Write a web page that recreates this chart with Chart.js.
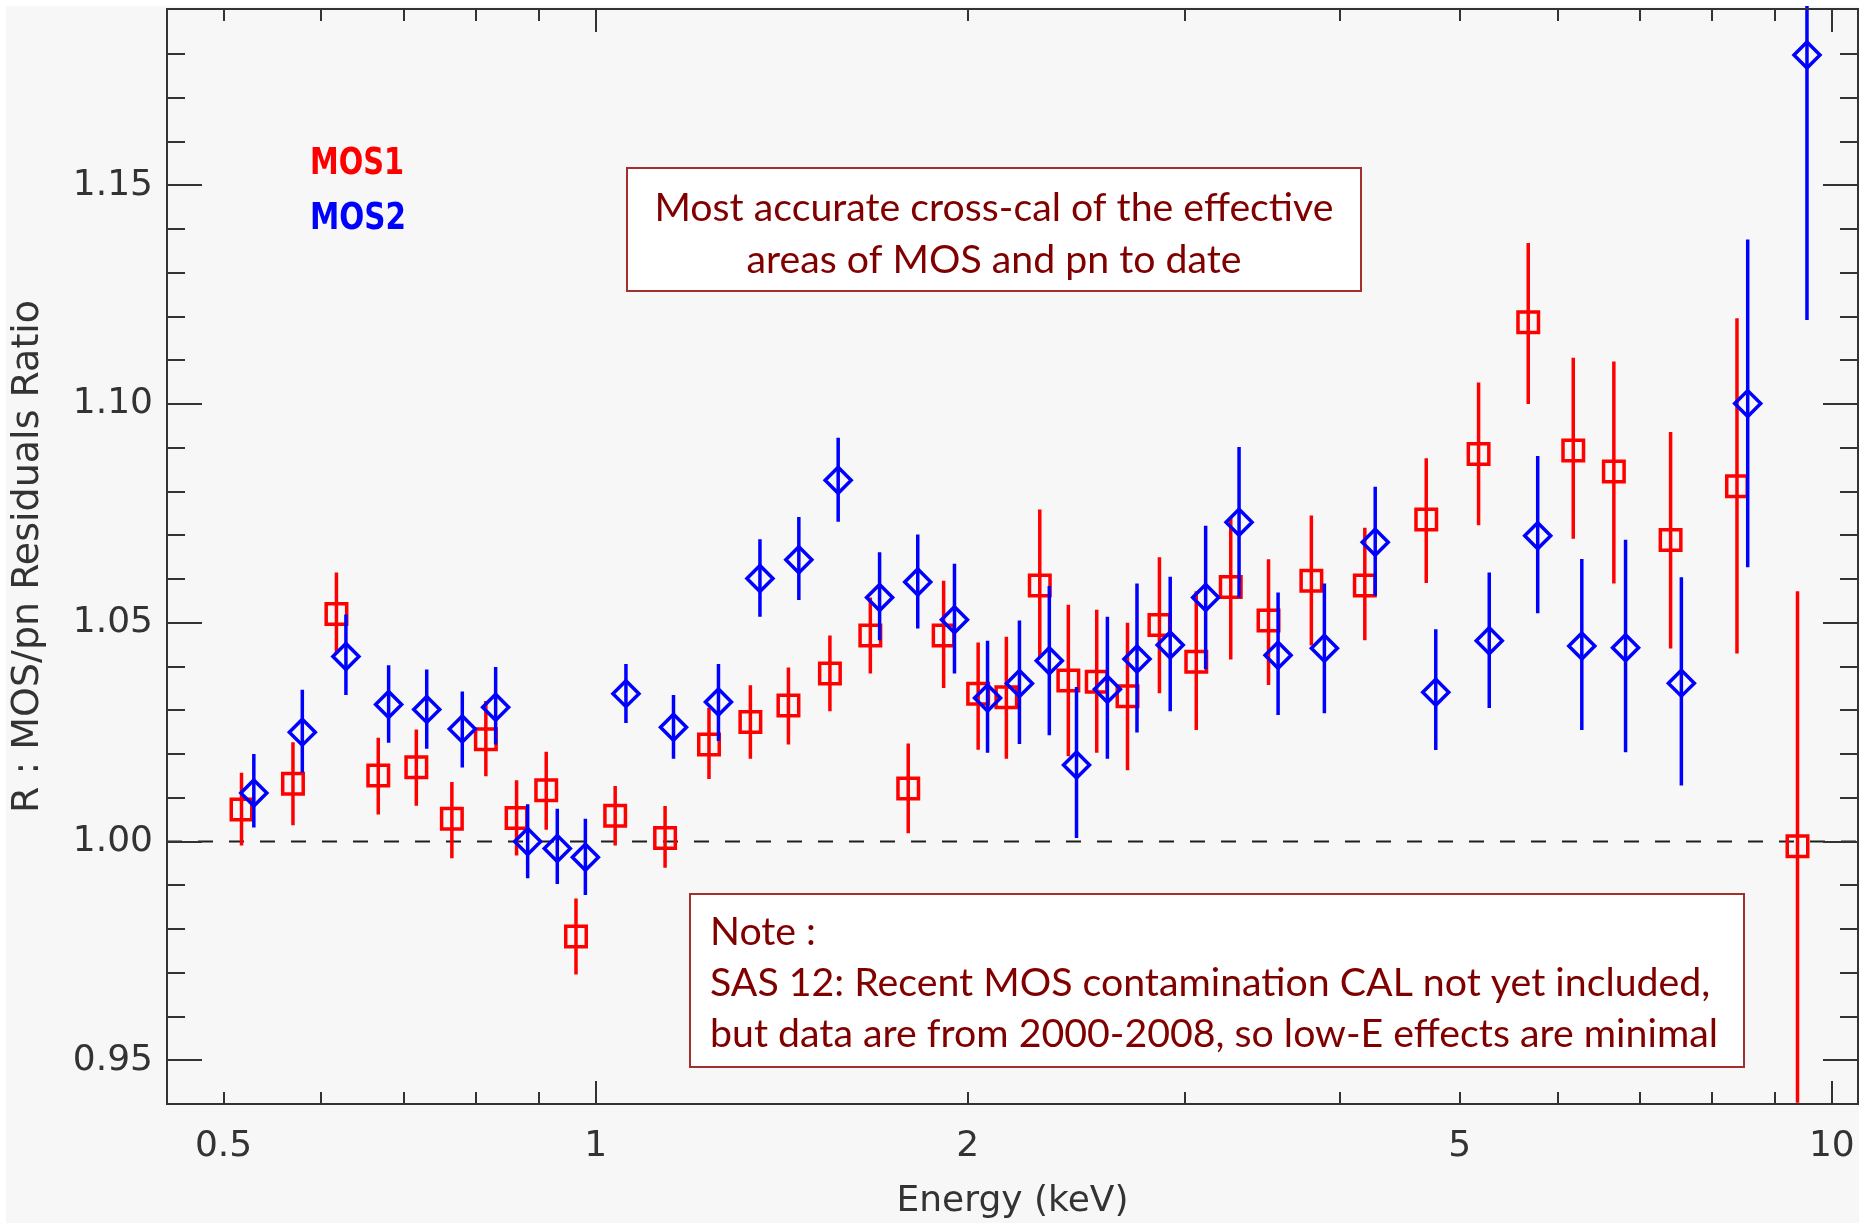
<!DOCTYPE html>
<html>
<head>
<meta charset="utf-8">
<title>MOS/pn Residuals Ratio</title>
<script src="https://cdn.jsdelivr.net/npm/chart.js"></script>
<style>
  html, body { margin: 0; padding: 0; background: #ffffff; }
  #wrap { position: relative; width: 1859px; height: 1223px; }
</style>
</head>
<body>
<div id="wrap"><canvas id="myChart" width="1859" height="1223"></canvas></div>
<script>
// MOS1 (red squares): energy (keV), ratio, upper and lower end of error bar
var mos1Energy = [0.517, 0.569, 0.617, 0.667, 0.716, 0.765, 0.815, 0.863, 0.912, 0.964, 1.037, 1.138, 1.235, 1.334, 1.432, 1.547, 1.668, 1.790, 1.912, 2.039, 2.149, 2.287, 2.412, 2.543, 2.693, 2.858, 3.061, 3.264, 3.502, 3.793, 4.190, 4.698, 5.179, 5.681, 6.178, 6.663, 7.406, 8.381, 9.381];
var mos1Ratio = [1.0073, 1.0132, 1.0520, 1.0151, 1.0170, 1.0052, 1.0234, 1.0054, 1.0117, 0.9783, 1.0059, 1.0008, 1.0222, 1.0273, 1.0311, 1.0384, 1.0471, 1.0121, 1.0471, 1.0338, 1.0330, 1.0585, 1.0368, 1.0365, 1.0332, 1.0495, 1.0411, 1.0582, 1.0505, 1.0596, 1.0585, 1.0736, 1.0886, 1.1187, 1.0894, 1.0846, 1.0689, 1.0812, 0.9989];
var mos1Hi = [1.0157, 1.0227, 1.0615, 1.0237, 1.0256, 1.0136, 1.0321, 1.0140, 1.0205, 0.9870, 1.0127, 1.0081, 1.0306, 1.0357, 1.0398, 1.0471, 1.0558, 1.0224, 1.0596, 1.0455, 1.0468, 1.0759, 1.0541, 1.0530, 1.0500, 1.0650, 1.0572, 1.0740, 1.0645, 1.0745, 1.0717, 1.0876, 1.1049, 1.1368, 1.1106, 1.1097, 1.0936, 1.1196, 1.0572];
var mos1Lo = [0.9991, 1.0037, 1.0429, 1.0062, 1.0082, 0.9962, 1.0149, 0.9968, 1.0027, 0.9696, 0.9991, 0.9940, 1.0143, 1.0189, 1.0222, 1.0298, 1.0384, 1.0019, 1.0351, 1.0210, 1.0189, 1.0420, 1.0195, 1.0203, 1.0163, 1.0339, 1.0255, 1.0416, 1.0358, 1.0448, 1.0460, 1.0591, 1.0723, 1.1000, 1.0692, 1.0590, 1.0441, 1.0430, 0.9403];

// MOS2 (blue diamonds)
var mos2Energy = [0.529, 0.579, 0.628, 0.680, 0.730, 0.780, 0.830, 0.881, 0.931, 0.981, 1.058, 1.156, 1.257, 1.358, 1.460, 1.571, 1.697, 1.822, 1.951, 2.075, 2.202, 2.328, 2.449, 2.594, 2.741, 2.916, 3.115, 3.315, 3.565, 3.886, 4.272, 4.782, 5.283, 5.782, 6.277, 6.810, 7.556, 8.550, 9.548];
var mos2Ratio = [1.0111, 1.0250, 1.0423, 1.0313, 1.0302, 1.0257, 1.0307, 1.0000, 0.9984, 0.9964, 1.0338, 1.0261, 1.0319, 1.0601, 1.0644, 1.0826, 1.0558, 1.0593, 1.0507, 1.0328, 1.0361, 1.0413, 1.0175, 1.0348, 1.0417, 1.0449, 1.0558, 1.0730, 1.0426, 1.0442, 1.0684, 1.0341, 1.0459, 1.0699, 1.0447, 1.0443, 1.0362, 1.1001, 1.1798];
var mos2Hi = [1.0200, 1.0347, 1.0519, 1.0403, 1.0393, 1.0343, 1.0399, 1.0085, 1.0075, 1.0052, 1.0406, 1.0335, 1.0406, 1.0691, 1.0742, 1.0923, 1.0661, 1.0702, 1.0635, 1.0459, 1.0505, 1.0584, 1.0353, 1.0514, 1.0590, 1.0605, 1.0722, 1.0902, 1.0569, 1.0590, 1.0811, 1.0485, 1.0615, 1.0881, 1.0646, 1.0690, 1.0604, 1.1376, 1.1950];
var mos2Lo = [1.0032, 1.0158, 1.0335, 1.0226, 1.0212, 1.0169, 1.0222, 0.9916, 0.9903, 0.9878, 1.0271, 1.0189, 1.0230, 1.0514, 1.0552, 1.0731, 1.0460, 1.0487, 1.0384, 1.0203, 1.0223, 1.0243, 1.0008, 1.0189, 1.0249, 1.0298, 1.0394, 1.0558, 1.0289, 1.0293, 1.0562, 1.0209, 1.0305, 1.0522, 1.0255, 1.0204, 1.0128, 1.0627, 1.1192];

// axes
var xMin = 0.45, xMax = 10.5;
var yMin = 0.94, yMax = 1.1903;
var xLabelValues = [0.5, 1, 2, 5, 10];
var xTickLabels = ["0.5", "1", "2", "5", "10"];
var xAllTicks = [0.5, 0.6, 0.7, 0.8, 0.9, 1, 2, 3, 4, 5, 6, 7, 8, 9, 10];
var xLongTicks = [1, 10];
var yLabelValues = [0.95, 1.00, 1.05, 1.10, 1.15];
var yTickLabels = ["0.95", "1.00", "1.05", "1.10", "1.15"];
var refLevel = 1.0;

var yAllTicks = [];
for (var t = 95; t <= 118; t++) {
    yAllTicks.push(t / 100);
}

function toPoints(xs, ys) {
    var pts = [];
    for (var i = 0; i < xs.length; i++) {
        pts.push({ x: xs[i], y: ys[i] });
    }
    return pts;
}

var inkColor = "#333333";
var noteRed = "#800000";

// light grey page with a thin white margin at top and left
var backdrop = {
    id: "backdrop",
    beforeDraw: function (chart) {
        var ctx = chart.ctx;
        ctx.save();
        ctx.fillStyle = "#ffffff";
        ctx.fillRect(0, 0, chart.width, chart.height);
        ctx.fillStyle = "#f7f7f7";
        ctx.fillRect(6, 6, chart.width - 6, chart.height - 6);
        ctx.restore();
    }
};

// vertical error bars, drawn just before each dataset's own markers
var errorBars = {
    id: "errorBars",
    beforeDatasetDraw: function (chart, args) {
        var ds = chart.data.datasets[args.index];
        if (!ds.hi) return;
        var ctx = chart.ctx;
        var xs = chart.scales.x, ys = chart.scales.y, a = chart.chartArea;
        ctx.save();
        ctx.beginPath();
        ctx.rect(a.left, a.top - 3, a.right - a.left, a.bottom - a.top + 3);
        ctx.clip();
        ctx.strokeStyle = ds.borderColor;
        ctx.lineWidth = 3.5;
        ctx.beginPath();
        for (var i = 0; i < ds.data.length; i++) {
            var px = xs.getPixelForValue(ds.data[i].x);
            ctx.moveTo(px, ys.getPixelForValue(ds.hi[i]));
            ctx.lineTo(px, ys.getPixelForValue(ds.lo[i]));
        }
        ctx.stroke();
        ctx.restore();
    }
};

// box round the plot with ticks pointing inwards on all four sides
var frameTicks = {
    id: "frameTicks",
    afterDatasetsDraw: function (chart) {
        var ctx = chart.ctx, a = chart.chartArea;
        var xs = chart.scales.x, ys = chart.scales.y;
        ctx.save();
        ctx.strokeStyle = inkColor;
        ctx.lineWidth = 2;
        ctx.strokeRect(a.left, a.top, a.right - a.left, a.bottom - a.top);
        ctx.beginPath();
        xAllTicks.forEach(function (v) {
            var px = Math.round(xs.getPixelForValue(v));
            var len = xLongTicks.indexOf(v) >= 0 ? 23 : 12;
            ctx.moveTo(px, a.bottom);
            ctx.lineTo(px, a.bottom - len);
            ctx.moveTo(px, a.top);
            ctx.lineTo(px, a.top + len);
        });
        yAllTicks.forEach(function (v) {
            var py = Math.round(ys.getPixelForValue(v));
            var major = false;
            for (var j = 0; j < yLabelValues.length; j++) {
                if (Math.abs(yLabelValues[j] - v) < 1e-6) major = true;
            }
            var len = major ? 35 : 18;
            ctx.moveTo(a.left, py);
            ctx.lineTo(a.left + len, py);
            ctx.moveTo(a.right, py);
            ctx.lineTo(a.right - len, py);
        });
        ctx.stroke();
        ctx.restore();
    }
};

// squeeze a line of text sideways so it takes the given width
function drawSqueezed(ctx, text, x, y, k, align) {
    ctx.save();
    ctx.translate(x, y);
    ctx.scale(k, 1);
    ctx.textAlign = align;
    ctx.fillText(text, 0, 0);
    ctx.restore();
}

var noteBoxes = [
    { left: 627, top: 168, right: 1361, bottom: 291, align: "center", textX: 994,
      baselines: [221, 273], fitWidth: 679,
      lines: ["Most accurate cross-cal of the effective", "areas of MOS and pn to date"] },
    { left: 690, top: 894, right: 1744, bottom: 1067, align: "left", textX: 710,
      baselines: [945, 996, 1047], fitWidth: 1008, fitLine: 2,
      lines: ["Note :", "SAS 12: Recent MOS contamination CAL not yet included,", "but data are from 2000-2008, so low-E effects are minimal"] }
];

var legendItems = [
    { text: "MOS1", color: "#ff0000", x: 310, y: 174, width: 94 },
    { text: "MOS2", color: "#0000ff", x: 310, y: 229, width: 96 }
];

var notes = {
    id: "notes",
    afterDraw: function (chart) {
        var ctx = chart.ctx;
        ctx.save();
        noteBoxes.forEach(function (b) {
            ctx.fillStyle = "#ffffff";
            ctx.fillRect(b.left, b.top, b.right - b.left, b.bottom - b.top);
            ctx.strokeStyle = "#a3302c";
            ctx.lineWidth = 2;
            ctx.strokeRect(b.left, b.top, b.right - b.left, b.bottom - b.top);
            ctx.font = "38px Lato, 'Open Sans', sans-serif";
            ctx.fillStyle = noteRed;
            ctx.textBaseline = "alphabetic";
            var k = b.fitWidth / ctx.measureText(b.lines[b.fitLine || 0]).width;
            for (var i = 0; i < b.lines.length; i++) {
                drawSqueezed(ctx, b.lines[i], b.textX, b.baselines[i], k, b.align);
            }
        });
        legendItems.forEach(function (it) {
            ctx.font = "bold 37px 'DejaVu Sans'";
            ctx.fillStyle = it.color;
            ctx.textBaseline = "alphabetic";
            var k = it.width / ctx.measureText(it.text).width;
            drawSqueezed(ctx, it.text, it.x, it.y, k, "left");
        });
        ctx.restore();
    }
};

// keep the scales from reserving room for half a tick label at their ends
function noEndPadding(scale) {
    scale.paddingTop = 0;
    scale.paddingBottom = 0;
    scale.paddingLeft = 0;
    scale.paddingRight = 0;
}

Chart.defaults.font.family = "'DejaVu Sans', sans-serif";
Chart.defaults.color = inkColor;

var ctx = document.getElementById("myChart").getContext("2d");
var chart = new Chart(ctx, {
    type: "scatter",
    data: {
        datasets: [{
            label: "MOS2",
            data: toPoints(mos2Energy, mos2Ratio),
            hi: mos2Hi,
            lo: mos2Lo,
            order: 0,
            pointStyle: "rectRot",
            pointRadius: 13,
            pointBorderWidth: 3.5,
            borderColor: "#0000ff",
            backgroundColor: "rgba(0,0,0,0)"
        }, {
            label: "MOS1",
            data: toPoints(mos1Energy, mos1Ratio),
            hi: mos1Hi,
            lo: mos1Lo,
            order: 1,
            pointStyle: "rect",
            pointRadius: 14.5,
            pointBorderWidth: 3.5,
            borderColor: "#ff0000",
            backgroundColor: "rgba(0,0,0,0)"
        }, {
            label: "unity",
            data: [{ x: xMin, y: refLevel }, { x: xMax, y: refLevel }],
            order: 2,
            showLine: true,
            pointRadius: 0,
            borderColor: "#1e1e1e",
            borderWidth: 2,
            borderDash: [15, 16]
        }]
    },
    options: {
        responsive: false,
        animation: false,
        events: [],
        layout: {
            autoPadding: false,
            padding: { left: 0, right: 1, top: 9, bottom: 0 }
        },
        plugins: {
            legend: { display: false },
            tooltip: { enabled: false }
        },
        scales: {
            x: {
                type: "logarithmic",
                min: xMin,
                max: xMax,
                grid: { display: false, drawTicks: false },
                border: { display: false },
                afterBuildTicks: function (scale) {
                    scale.ticks = xLabelValues.map(function (v) { return { value: v }; });
                },
                afterFit: function (scale) {
                    scale.height = 119;
                    noEndPadding(scale);
                },
                ticks: {
                    autoSkip: false,
                    maxRotation: 0,
                    padding: 21,
                    font: { size: 36 },
                    color: inkColor,
                    callback: function (value, index) { return xTickLabels[index]; }
                },
                title: {
                    display: true,
                    text: "Energy (keV)",
                    font: { size: 36 },
                    color: inkColor,
                    padding: { top: 0, bottom: 0 }
                }
            },
            y: {
                type: "linear",
                min: yMin,
                max: yMax,
                grid: { display: false, drawTicks: false },
                border: { display: false },
                afterBuildTicks: function (scale) {
                    scale.ticks = yLabelValues.map(function (v) { return { value: v }; });
                },
                afterFit: function (scale) {
                    scale.width = 167;
                    noEndPadding(scale);
                },
                ticks: {
                    autoSkip: false,
                    padding: 14,
                    font: { size: 36 },
                    color: inkColor,
                    callback: function (value, index) { return yTickLabels[index]; }
                },
                title: {
                    display: true,
                    text: "R : MOS/pn Residuals Ratio",
                    font: { size: 38 },
                    color: inkColor,
                    padding: { top: 5, bottom: 0 }
                }
            }
        }
    },
    plugins: [backdrop, errorBars, frameTicks, notes]
});
</script>
</body>
</html>
